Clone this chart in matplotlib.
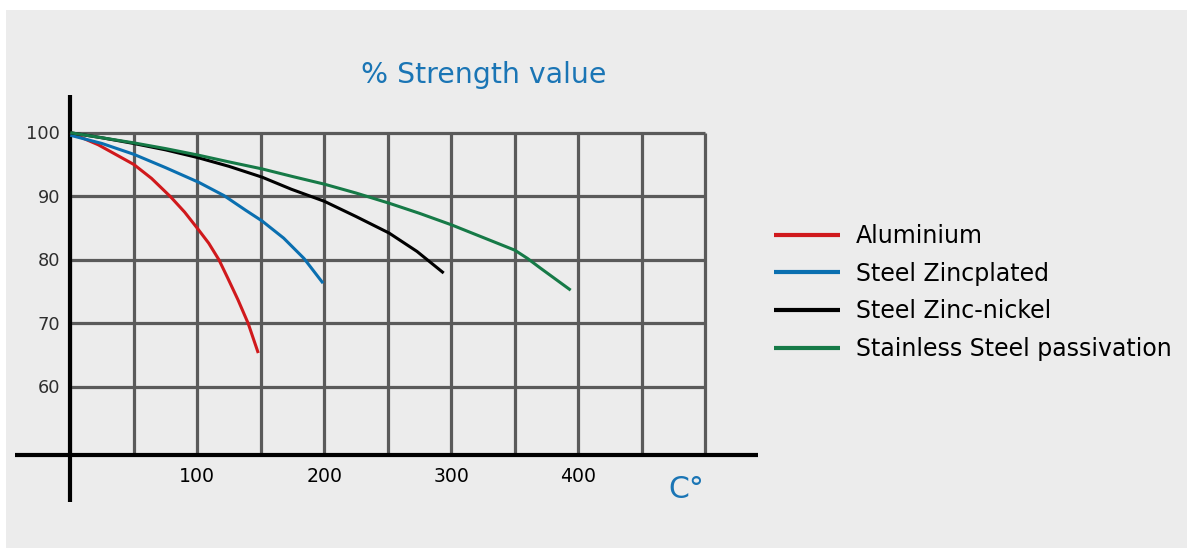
import matplotlib
matplotlib.use('Agg')
import matplotlib.pyplot as plt
from matplotlib.patches import Rectangle

plt.rcParams['font.family'] = ['DejaVu Sans']

# Temperature (C) vs strength (%)
alu_x = [0, 22, 50, 64, 79, 90, 101, 109, 117, 124, 132, 140, 148]
alu_y = [100, 98.1, 95, 92.8, 89.9, 87.5, 84.7, 82.6, 80, 77.1, 73.7, 70, 65.3]

zinc_x = [0, 25, 50, 75, 101, 121, 138, 151, 168, 184, 199]
zinc_y = [99.6, 98.3, 96.6, 94.5, 92.2, 90.1, 87.8, 86.1, 83.4, 80.2, 76.3]

zini_x = [0, 25, 50, 75, 100, 125, 151, 174, 200, 225, 251, 273, 294]
zini_y = [100, 99.2, 98.3, 97.3, 96.1, 94.7, 93.0, 91.1, 89.2, 86.8, 84.2, 81.3, 77.9]

ss_x = [0, 25, 50, 75, 100, 125, 151, 175, 200, 225, 251, 275, 300, 325, 350, 360, 370, 394]
ss_y = [100, 99.2, 98.4, 97.5, 96.5, 95.4, 94.3, 93.1, 91.9, 90.5, 88.9, 87.3, 85.5, 83.5, 81.5, 80.2, 78.7, 75.2]

labels = ['Aluminium', 'Steel Zincplated', 'Steel Zinc-nickel', 'Stainless Steel passivation']
colors = ['#d0191c', '#0a6fb0', '#000000', '#167a47']

grid_x = [0, 50, 100, 150, 200, 250, 300, 350, 400, 450, 500]
grid_y = [60, 70, 80, 90, 100]
xtick_vals = [100, 200, 300, 400]
ytick_vals = [60, 70, 80, 90, 100]

fig = plt.figure(figsize=(11.87, 5.5), dpi=100, facecolor='white')
# grey panel behind everything
fig.patches.append(Rectangle((6 / 1187, 2 / 550), 1 - 6 / 1187, 538 / 550,
                             transform=fig.transFigure, facecolor='#ececec',
                             edgecolor='none', linewidth=0, zorder=-10))

ax = fig.add_axes([0, 0, 1, 1])
ax.set_xlim(-55.35, 879.3)
ax.set_ylim(34.28, 120.9)
ax.axis('off')
ax.patch.set_alpha(0)

x_axis_y = 49.25
ax.vlines(grid_x, x_axis_y, 100, color='#5a5a5a', lw=2.3, zorder=1)
ax.hlines(grid_y, 0, 500, color='#5a5a5a', lw=2.3, zorder=1)

# axis lines
ax.plot([-43.3, 541.5], [x_axis_y, x_axis_y], color='black', lw=3, solid_capstyle='butt', zorder=2)
ax.plot([0, 0], [41.8, 105.9], color='black', lw=3, solid_capstyle='butt', zorder=2)

series = [(alu_x, alu_y), (zinc_x, zinc_y), (zini_x, zini_y), (ss_x, ss_y)]
for (xs, ys), c, lab in zip(series, colors, labels):
    ax.plot(xs, ys, color=c, lw=2.2, label=lab, zorder=3,
            solid_joinstyle='round', solid_capstyle='butt')

for v in xtick_vals:
    ax.text(v, 45.0, str(v), ha='center', va='baseline', fontsize=13.6, color='black')
for v in ytick_vals:
    ax.text(-8.1, v - 1.05, str(v), ha='right', va='baseline', fontsize=12.8, color='#2e2e2e')

ax.text(325.4, 107.8, '% Strength value', ha='center', va='baseline', fontsize=20.4, color='#1a75b5')
ax.text(485.2, 42.4, 'C°', ha='center', va='baseline', fontsize=21.6, color='#1a75b5')

leg = ax.legend(loc='upper left', bbox_to_anchor=(774 / 1187, 1 - 224 / 550),
                bbox_transform=fig.transFigure, frameon=False, fontsize=17.0,
                handlelength=2.8, handletextpad=0.68, labelspacing=0.58,
                borderpad=0, borderaxespad=0)
for line in leg.get_lines():
    line.set_linewidth(3)

fig.savefig('out.png', dpi=100, facecolor='white')
